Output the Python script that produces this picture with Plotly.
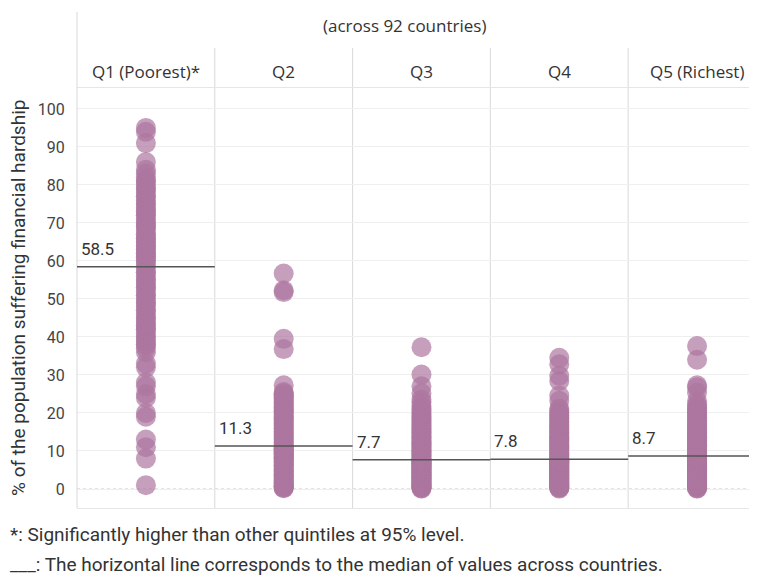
import plotly.graph_objects as go

# ---------------- data ----------------
quintiles = ["Q1 (Poorest)*", "Q2", "Q3", "Q4", "Q5 (Richest)"]
medians = [58.5, 11.3, 7.7, 7.8, 8.7]
y_ticks = [0, 10, 20, 30, 40, 50, 60, 70, 80, 90, 100]

q1_values = [1, 8, 11, 13, 19, 20, 24, 25, 27, 28, 32, 33, 36,
             37, 38, 38, 39, 40, 40, 41, 42, 42, 43, 43, 44, 45, 45, 46, 47, 47, 48, 49, 49,
             50, 51, 51, 52, 53, 53, 54, 55, 55, 56, 57, 57, 58,
             59, 60, 60, 61, 61, 62, 62, 63, 63, 64, 64, 65, 65, 66, 66, 67, 67, 68, 69, 69,
             70, 70, 71, 72, 72, 73, 73, 74, 75, 75, 76, 77, 77, 78, 79, 79, 80, 81, 81, 82, 83,
             84, 86, 91, 94, 95]
q2_values = [0.2, 0.3, 0.5, 0.7, 0.8, 1.0, 1.3, 1.5, 1.8, 2.0, 2.3, 2.5, 2.9, 3.0, 3.4,
             3.6, 3.8, 4.1, 4.5, 4.7, 5.0, 5.2, 5.5, 5.9, 6.1, 6.3, 6.6, 7.0, 7.2, 7.4, 7.7,
             8.0, 8.2, 8.3, 8.7, 9.0, 9.2, 9.4, 9.7, 9.9, 10.1, 10.3, 10.4, 10.7, 10.9, 11.1,
             11.5, 11.9, 12.2, 12.6, 13.0, 13.4, 13.7, 14.1, 14.5, 14.8, 15.2, 15.6, 16.0,
             16.3, 16.8, 17.1, 17.4, 17.9, 18.2, 18.5, 18.9, 19.2, 19.6, 20.1, 20.4, 20.7,
             21.1, 21.4, 21.8, 22.2, 22.6, 22.9, 23.3, 23.7, 24.0, 24.3, 24.6, 24.9, 25.2,
             25.5, 27.3, 36.8, 39.5, 51.8, 52.3, 56.7]
q3_values = [0.1, 0.2, 0.4, 0.5, 0.7, 0.8, 1.0, 1.2, 1.3, 1.5, 1.7, 1.9, 2.0, 2.2, 2.4,
             2.6, 2.8, 2.9, 3.1, 3.3, 3.5, 3.6, 3.8, 4.0, 4.2, 4.4, 4.5, 4.7, 4.9, 5.1, 5.3,
             5.4, 5.6, 5.8, 6.0, 6.1, 6.3, 6.5, 6.6, 6.8, 6.9, 7.1, 7.2, 7.4, 7.5, 7.6,
             7.8, 8.1, 8.4, 8.7, 9.0, 9.3, 9.6, 9.9, 10.2, 10.5, 10.8, 11.1, 11.4, 11.7,
             12.0, 12.3, 12.6, 12.9, 13.2, 13.6, 13.9, 14.2, 14.6, 14.9, 15.3, 15.6, 16.0,
             16.4, 16.8, 17.2, 17.6, 18.0, 18.4, 18.9, 19.3, 19.8, 20.3, 20.8, 21.3, 21.9,
             22.8, 23.5, 25.2, 27.0, 30.1, 37.3]
q4_values = [0.1, 0.3, 0.4, 0.6, 0.7, 0.9, 1.1, 1.2, 1.4, 1.6, 1.8, 1.9, 2.1, 2.3, 2.5,
             2.6, 2.8, 3.0, 3.2, 3.4, 3.5, 3.7, 3.9, 4.1, 4.3, 4.4, 4.6, 4.8, 5.0, 5.2, 5.3,
             5.5, 5.7, 5.9, 6.1, 6.2, 6.4, 6.6, 6.8, 6.9, 7.1, 7.2, 7.4, 7.5, 7.6, 7.7,
             7.9, 8.2, 8.5, 8.8, 9.1, 9.4, 9.7, 10.0, 10.3, 10.6, 10.9, 11.2, 11.5, 11.8,
             12.1, 12.4, 12.7, 13.0, 13.3, 13.6, 13.9, 14.2, 14.6, 14.9, 15.2, 15.6, 15.9,
             16.3, 16.6, 17.0, 17.4, 17.8, 18.2, 18.6, 19.0, 19.4, 19.8, 20.2, 20.7, 21.2,
             23.2, 24.6, 28.4, 29.8, 32.8, 34.5]
q5_values = [0.1, 0.2, 0.4, 0.6, 0.8, 1.0, 1.1, 1.3, 1.5, 1.7, 1.9, 2.1, 2.3, 2.5, 2.7,
             2.9, 3.1, 3.3, 3.5, 3.7, 3.9, 4.1, 4.3, 4.5, 4.7, 4.9, 5.1, 5.3, 5.5, 5.7, 5.9,
             6.1, 6.3, 6.5, 6.7, 6.9, 7.1, 7.3, 7.5, 7.7, 7.9, 8.0, 8.2, 8.4, 8.5, 8.6,
             8.8, 9.1, 9.4, 9.7, 10.0, 10.3, 10.6, 10.9, 11.2, 11.5, 11.8, 12.1, 12.4, 12.7,
             13.0, 13.3, 13.6, 13.9, 14.2, 14.5, 14.9, 15.2, 15.5, 15.9, 16.2, 16.6, 16.9,
             17.3, 17.7, 18.1, 18.5, 18.9, 19.3, 19.7, 20.1, 20.5, 20.9, 21.3, 21.8, 22.3,
             23.1, 25.4, 26.8, 27.3, 34.0, 37.6]

header_text = "(across 92 countries)"
y_title = "% of the population suffering financial hardship"
footnote1 = "*: Significantly higher than other quintiles at 95% level."
footnote2 = "___: The horizontal line corresponds to the median of values across countries."

all_values = [q1_values, q2_values, q3_values, q4_values, q5_values]

# ---------------- styling / geometry ----------------
# the page body has an 8px margin, so the figure is drawn 8px smaller
OFF = 8
W, H = 757 - OFF, 579 - OFF
ML, MR, MT = 77 - OFF, 0, 88 - OFF
PLOT_BOTTOM = 508 - OFF
MB = H - PLOT_BOTTOM
PH = PLOT_BOTTOM - MT
PW = W - ML - MR
X_MIN, X_MAX = -0.5, 4.435
Y_MIN, Y_MAX = -5, 105.5
DOT = "rgb(172,118,160)"
GRID = "#efefef"
DIV = "#d9d9d9"
TXT = "#333333"
COND = "Roboto, 'DejaVu Sans Condensed', sans-serif"
HEAD = "'Open Sans', 'Noto Sans', sans-serif"


def xp(v):
    return (v - X_MIN) / (X_MAX - X_MIN)


def px_x(page_x):
    return (page_x - OFF - ML) / PW


def px_y(page_y):
    return (PLOT_BOTTOM - (page_y - OFF)) / PH


fig = go.Figure()
for i, vals in enumerate(all_values):
    fig.add_trace(go.Scatter(
        x=[i] * len(vals), y=vals, mode="markers",
        marker=dict(size=20, color=DOT, opacity=0.7, line=dict(width=0)),
        hoverinfo="y", showlegend=False))

shapes = []
shapes.append(dict(type="line", xref="paper", yref="y", x0=0, x1=1, y0=0, y1=0,
                   line=dict(color="#c8c8c8", width=1, dash="dot"), layer="below"))
shapes.append(dict(type="line", xref="paper", yref="paper", x0=0, x1=0, y0=0, y1=px_y(12),
                   line=dict(color=DIV, width=1)))
for i in range(len(quintiles) - 1):
    shapes.append(dict(type="line", xref="paper", yref="paper", x0=xp(i + 0.5), x1=xp(i + 0.5),
                       y0=0, y1=px_y(48), line=dict(color=DIV, width=1), layer="below"))
for i, m in enumerate(medians):
    shapes.append(dict(type="line", xref="x", yref="y", x0=i - 0.5, x1=i + 0.5, y0=m, y1=m,
                       line=dict(color="#555555", width=1.5)))

annotations = []
annotations.append(dict(text=header_text, xref="paper", yref="paper", x=px_x(404), y=px_y(25),
                        xanchor="center", yanchor="middle", showarrow=False,
                        font=dict(family=HEAD, size=17, color=TXT)))
for i, q in enumerate(quintiles):
    annotations.append(dict(text=q, xref="x", yref="paper", x=i, y=px_y(72),
                            xanchor="center", yanchor="middle", showarrow=False,
                            font=dict(family=HEAD, size=17, color=TXT)))
for i, m in enumerate(medians):
    annotations.append(dict(text=f"{m:.1f}", xref="x", yref="y", x=i - 0.5, y=m,
                            xanchor="left", yanchor="bottom", xshift=2, yshift=6,
                            showarrow=False, font=dict(family=COND, size=17, color=TXT)))
annotations.append(dict(text=y_title, xref="paper", yref="paper", x=px_x(18),
                        y=px_y(298), textangle=-90, xanchor="center", yanchor="middle",
                        showarrow=False, font=dict(family=COND, size=19, color=TXT)))
annotations.append(dict(text=footnote1, xref="paper", yref="paper", x=px_x(8),
                        y=px_y(534), xanchor="left", yanchor="middle",
                        showarrow=False, font=dict(family=COND, size=19, color=TXT)))
annotations.append(dict(text=footnote2, xref="paper", yref="paper", x=px_x(8),
                        y=px_y(564), xanchor="left", yanchor="middle",
                        showarrow=False, font=dict(family=COND, size=19, color=TXT)))

fig.update_layout(
    width=W, height=H,
    margin=dict(l=ML, r=MR, t=MT, b=MB, pad=0),
    paper_bgcolor="white", plot_bgcolor="white",
    shapes=shapes, annotations=annotations,
    xaxis=dict(range=[X_MIN, X_MAX], showticklabels=False, showgrid=False, zeroline=False,
               showline=True, linecolor="#e6e6e6", linewidth=1, mirror=True, ticks=""),
    yaxis=dict(range=[Y_MIN, Y_MAX], tickvals=y_ticks, showgrid=True, gridcolor=GRID,
               zeroline=False, showline=False, ticks="outside", ticklen=8,
               tickcolor="rgba(0,0,0,0)", tickfont=dict(family=COND, size=16, color="#444444")),
)

fig.write_html("out.html")
